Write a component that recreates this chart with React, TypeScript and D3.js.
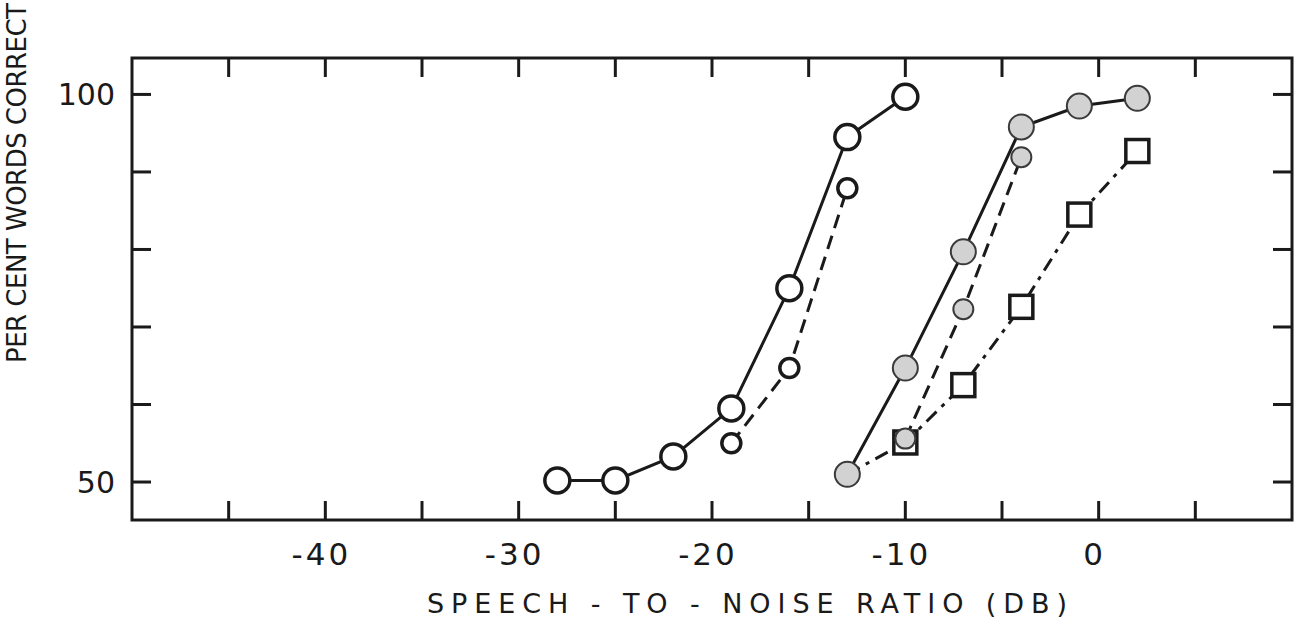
import React, { useEffect, useRef } from "react";
import * as d3 from "d3";

// speech-to-noise ratio (dB) and per cent words correct
const xOpenLarge = [-28, -25, -22, -19, -16, -13, -10];
const yOpenLarge = [50.2, 50.2, 53.3, 59.5, 75.0, 94.5, 99.7];

const xOpenSmall = [-19, -16, -13];
const yOpenSmall = [55.0, 64.7, 87.9];

const xFilledLarge = [-13, -10, -7, -4, -1, 2];
const yFilledLarge = [51.0, 64.7, 79.7, 95.8, 98.5, 99.5];

const xFilledSmall = [-10, -7, -4];
const yFilledSmall = [55.6, 72.3, 91.9];

// square series starts from the filled circle at -13
const xSquare = [-13, -10, -7, -4, -1, 2];
const ySquare = [51.0, 55.1, 62.5, 72.6, 84.5, 92.7];

const xTicks = [-45, -40, -35, -30, -25, -20, -15, -10, -5, 0, 5];
const xTickLabels = [-40, -30, -20, -10, 0];
const yTicks = [50, 60, 70, 80, 90, 100];
const yTickLabels = [50, 100];

const FONT = "'DejaVu Sans', 'Liberation Sans', sans-serif";

function zip(xs: number[], ys: number[]) {
    return xs.map((x, i) => [x, ys[i]] as [number, number]);
}

export default function App() {
    const ref = useRef<SVGSVGElement>(null);

    useEffect(() => {
        const svg = d3.select(ref.current);
        svg.selectAll("*").remove();

        const left = 132, right = 1292, top = 58, bottom = 520;
        const x = d3.scaleLinear().domain([-50, 10]).range([left, right]);
        const y = d3.scaleLinear().domain([45.1, 104.7]).range([bottom, top]);
        const ink = "#1a1a1a";

        // frame
        svg.append("rect")
            .attr("x", left).attr("y", top)
            .attr("width", right - left).attr("height", bottom - top)
            .attr("fill", "none").attr("stroke", ink).attr("stroke-width", 3);

        // inward ticks on all four sides
        const tl = 19;
        svg.append("g").selectAll("line").data(xTicks).enter().append("line")
            .attr("x1", d => x(d)).attr("x2", d => x(d))
            .attr("y1", bottom).attr("y2", bottom - tl)
            .attr("stroke", ink).attr("stroke-width", 3);
        svg.append("g").selectAll("line").data(xTicks).enter().append("line")
            .attr("x1", d => x(d)).attr("x2", d => x(d))
            .attr("y1", top).attr("y2", top + tl)
            .attr("stroke", ink).attr("stroke-width", 3);
        svg.append("g").selectAll("line").data(yTicks).enter().append("line")
            .attr("x1", left).attr("x2", left + tl)
            .attr("y1", d => y(d)).attr("y2", d => y(d))
            .attr("stroke", ink).attr("stroke-width", 3);
        svg.append("g").selectAll("line").data(yTicks).enter().append("line")
            .attr("x1", right).attr("x2", right - tl)
            .attr("y1", d => y(d)).attr("y2", d => y(d))
            .attr("stroke", ink).attr("stroke-width", 3);

        // tick labels
        svg.append("g").selectAll("text").data(xTickLabels).enter().append("text")
            .attr("x", d => x(d) - 4).attr("y", 565)
            .attr("text-anchor", "middle")
            .attr("font-family", FONT).attr("font-size", 31)
            .attr("letter-spacing", 3)
            .attr("fill", ink)
            .text(d => (d < 0 ? "-" + Math.abs(d) : String(d)));
        svg.append("g").selectAll("text").data(yTickLabels).enter().append("text")
            .attr("x", 115).attr("y", d => y(d) + 11)
            .attr("text-anchor", "end")
            .attr("font-family", FONT).attr("font-size", 30)
            .attr("fill", ink)
            .text(d => String(d));

        // axis titles
        svg.append("text")
            .attr("x", 427).attr("y", 613)
            .attr("textLength", 640).attr("lengthAdjust", "spacing")
            .attr("font-family", FONT).attr("font-size", 27)
            .attr("fill", ink)
            .text("SPEECH - TO - NOISE  RATIO (DB)");
        svg.append("text")
            .attr("transform", "translate(26,363) rotate(-90)")
            .attr("textLength", 360).attr("lengthAdjust", "spacing")
            .attr("font-family", FONT).attr("font-size", 26)
            .attr("fill", ink)
            .text("PER CENT WORDS CORRECT");

        const line = d3.line<[number, number]>().x(d => x(d[0])).y(d => y(d[1]));

        const drawLine = (pts: [number, number][], dash: string | null) => {
            svg.append("path")
                .attr("d", line(pts))
                .attr("fill", "none").attr("stroke", ink).attr("stroke-width", 3)
                .attr("stroke-dasharray", dash);
        };

        const squarePts = zip(xSquare, ySquare);
        const openLarge = zip(xOpenLarge, yOpenLarge);
        const openSmall = zip(xOpenSmall, yOpenSmall);
        const filledLarge = zip(xFilledLarge, yFilledLarge);
        const filledSmall = zip(xFilledSmall, yFilledSmall);

        drawLine(squarePts, "14 7 4 7");
        drawLine(openLarge, null);
        drawLine(openSmall, "14 8");
        drawLine(filledLarge, null);
        drawLine(filledSmall, "14 8");

        // squares (first point hidden under the filled circle)
        const side = 23;
        svg.append("g").selectAll("rect").data(squarePts.slice(1)).enter().append("rect")
            .attr("x", d => x(d[0]) - side / 2).attr("y", d => y(d[1]) - side / 2)
            .attr("width", side).attr("height", side)
            .attr("fill", "white").attr("stroke", ink).attr("stroke-width", 3.5);

        const drawCircles = (pts: [number, number][], r: number, filled: boolean) => {
            svg.append("g").selectAll("circle").data(pts).enter().append("circle")
                .attr("cx", d => x(d[0])).attr("cy", d => y(d[1]))
                .attr("r", r)
                .attr("fill", filled ? "#d2d2d2" : "white")
                .attr("stroke", filled ? "#3a3a3a" : ink)
                .attr("stroke-width", filled ? 2 : 3.5);
        };

        drawCircles(openLarge, 12.5, false);
        drawCircles(openSmall, 9.5, false);
        drawCircles(filledLarge, 12.5, true);
        drawCircles(filledSmall, 10, true);
    }, []);

    return (
        <svg
            ref={ref}
            width={1297}
            height={633}
            style={{ position: "absolute", left: 0, top: 0, background: "white" }}
        />
    );
}
